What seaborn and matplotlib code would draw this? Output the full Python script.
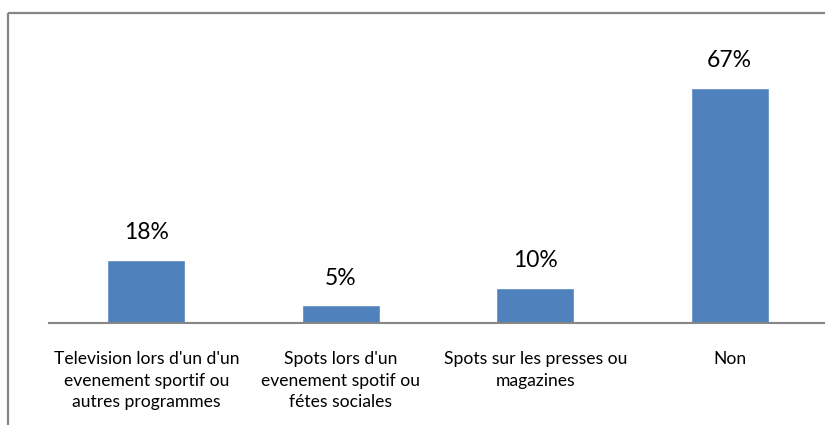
import matplotlib
matplotlib.use("Agg")
import matplotlib.pyplot as plt
from matplotlib.lines import Line2D
import seaborn as sns
import pandas as pd

categories = [
    "Television lors d'un d'un\nevenement sportif ou\nautres programmes",
    "Spots lors d'un\nevenement spotif ou\nfétes sociales",
    "Spots sur les presses ou\nmagazines",
    "Non",
]
values = [18, 5, 10, 67]
value_labels = ["18%", "5%", "10%", "67%"]

sns.set_theme(style="white")
plt.rcParams["font.family"] = ["Lato", "DejaVu Sans"]

W, H = 825, 425
fig = plt.figure(figsize=(W / 100, H / 100), dpi=100)
fig.patch.set_facecolor("white")

# axes box in pixel units (left, bottom, right, top from the top edge)
ax_left, ax_right = 49, 827
ax_base, ax_top = 323, 45
ax = fig.add_axes([ax_left / W, 1 - ax_base / H,
                   (ax_right - ax_left) / W, (ax_base - ax_top) / H])

df = pd.DataFrame({"cat": categories, "val": values})
sns.barplot(data=df, x="cat", y="val", color="#4F81BD", saturation=1,
            width=0.4, ax=ax)

ax.set_ylim(0, 79.3)
ax.set_xlim(-0.5, 3.5)
ax.set_xlabel("")
ax.set_ylabel("")
ax.set_yticks([])
for s in ["top", "right", "left"]:
    ax.spines[s].set_visible(False)
ax.spines["bottom"].set_color("#868686")
ax.spines["bottom"].set_linewidth(1.5)
ax.tick_params(axis="x", length=0, pad=20, labelsize=12.6, colors="#000000")
for lbl in ax.get_xticklabels():
    lbl.set_linespacing(1.45)
    lbl.set_verticalalignment("top")

for i, (v, t) in enumerate(zip(values, value_labels)):
    ax.annotate(t, (i, v), xytext=(0, 12), textcoords="offset points",
                ha="center", va="bottom", fontsize=16.5, color="#000000")

# outer chart frame (top and left edges visible)
frame_col = "#868686"
fig.add_artist(Line2D([8 / W, 1.0], [1 - 13 / H, 1 - 13 / H],
                      transform=fig.transFigure, color=frame_col, lw=1.6,
                      solid_capstyle="butt"))
fig.add_artist(Line2D([8 / W, 8 / W], [1 - 13 / H, 0.0],
                      transform=fig.transFigure, color=frame_col, lw=1.6,
                      solid_capstyle="butt"))

fig.savefig("out.png", dpi=100, facecolor="white")
